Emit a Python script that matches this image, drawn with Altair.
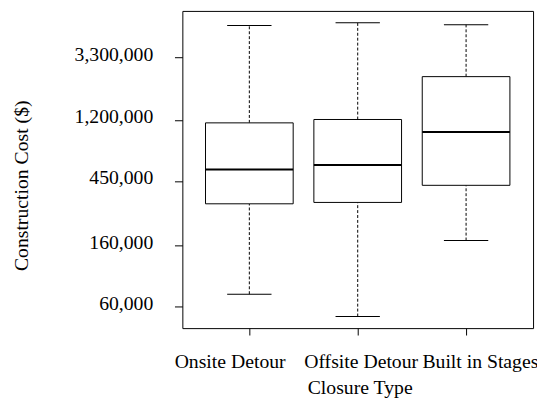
import altair as alt
import pandas as pd

categories = ["Onsite Detour", "Offsite Detour", "Built in Stages"]
lower_whisker = [73000, 51000, 173000]
q1 = [312000, 319000, 420000]
median = [541000, 583000, 990000]
q3 = [1146000, 1210000, 2410000]
upper_whisker = [5490000, 5730000, 5550000]

y_ticks = [60000, 160000, 450000, 1200000, 3300000]
y_tick_labels = ["60,000", "160,000", "450,000", "1,200,000", "3,300,000"]

df = pd.DataFrame({
    "cat": categories,
    "lo": lower_whisker,
    "q1": q1,
    "med": median,
    "q3": q3,
    "hi": upper_whisker,
})

FONT = "Liberation Serif"

label_map = "{" + ",".join(f"'{v}':'{l}'" for v, l in zip(y_ticks, y_tick_labels)) + "}"

x_enc = alt.X(
    "cat:N",
    sort=categories,
    scale=alt.Scale(type="point", padding=0.618),
    axis=alt.Axis(
        title="Closure Type",
        labelAngle=0,
        labelFont=FONT,
        labelFontSize=20,
        labelColor="black",
        labelBaseline="alphabetic",
        labelPadding=33,
        labelOffset={
            "condition": [
                {"test": "datum.value == 'Onsite Detour'", "value": -20},
                {"test": "datum.value == 'Built in Stages'", "value": 14},
            ],
            "value": 3,
        },
        tickSize=7,
        tickColor="black",
        domain=False,
        titleFont=FONT,
        titleFontSize=20,
        titleFontWeight="normal",
        titleColor="black",
        titleBaseline="alphabetic",
        titleAlign="center",
        titleX=180,
        titleY=66,
    ),
)

y_scale = alt.Scale(type="log", domain=[42300, 6930000], nice=False)
y_axis = alt.Axis(
    title="Construction Cost ($)",
    values=y_ticks,
    labelExpr=f"{label_map}[''+datum.value]",
    labelFont=FONT,
    labelFontSize=20,
    labelColor="black",
    labelAlign="right",
    labelBaseline="alphabetic",
    labelOffset=3,
    labelPadding=22,
    tickSize=8,
    tickColor="black",
    domain=False,
    grid=False,
    titleFont=FONT,
    titleFontSize=20,
    titleFontWeight="normal",
    titleColor="black",
    titleBaseline="alphabetic",
    titleAlign="center",
    titleAngle=-90,
    titleX=-157,
    titleY=177,
)

base = alt.Chart(df)

whisk_hi = base.mark_rule(color="black", strokeWidth=1, strokeDash=[3, 2]).encode(
    x=x_enc,
    y=alt.Y("q3:Q", scale=y_scale, axis=y_axis),
    y2="hi:Q",
)
whisk_lo = base.mark_rule(color="black", strokeWidth=1, strokeDash=[3, 2]).encode(
    x=x_enc, y=alt.Y("lo:Q", scale=y_scale, axis=y_axis), y2="q1:Q"
)
box = base.mark_bar(fill="white", stroke="black", strokeWidth=1, size=89).encode(
    x=x_enc, y=alt.Y("q1:Q", scale=y_scale, axis=y_axis), y2="q3:Q"
)
med = base.mark_tick(color="black", opacity=1, size=89, thickness=2, orient="horizontal").encode(
    x=x_enc, y=alt.Y("med:Q", scale=y_scale, axis=y_axis)
)
cap_hi = base.mark_tick(color="black", opacity=1, size=45, thickness=1, orient="horizontal").encode(
    x=x_enc, y=alt.Y("hi:Q", scale=y_scale, axis=y_axis)
)
cap_lo = base.mark_tick(color="black", opacity=1, size=45, thickness=1, orient="horizontal").encode(
    x=x_enc, y=alt.Y("lo:Q", scale=y_scale, axis=y_axis)
)

chart = alt.layer(whisk_hi, whisk_lo, box, med, cap_hi, cap_lo).properties(
    width=356,
    height=322,
    autosize=alt.AutoSizeParams(type="none"),
    padding={"left": 177, "top": 0, "right": 4, "bottom": 70},
    background="white",
).configure_view(stroke="black", strokeWidth=1)

chart.save("out.html", embed_options={"renderer": "svg", "actions": False})
